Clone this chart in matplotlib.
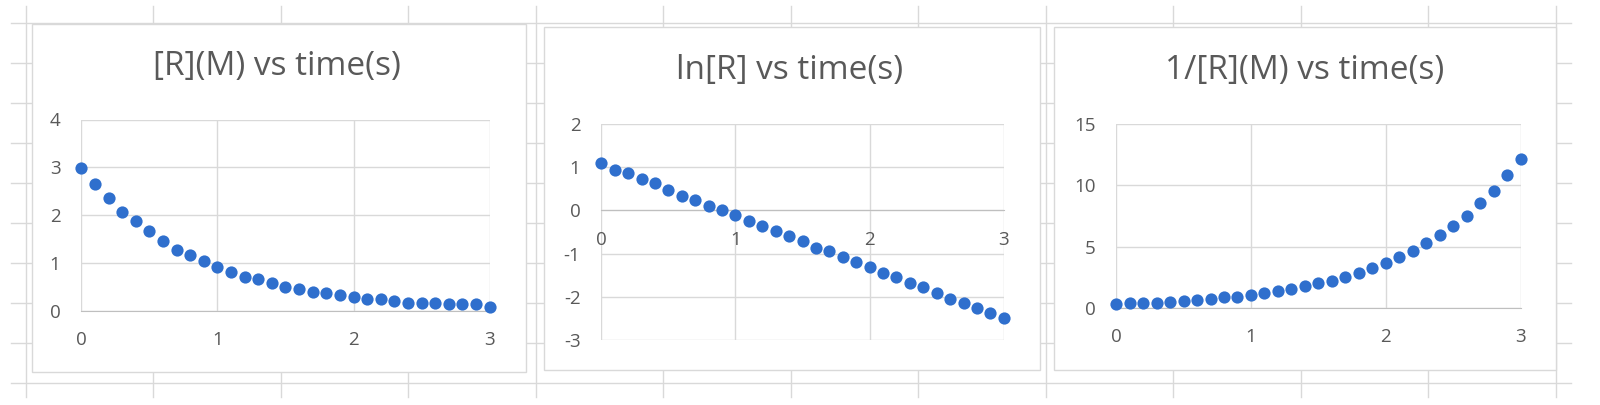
import numpy as np
import matplotlib.pyplot as plt
from matplotlib.lines import Line2D
from matplotlib.patches import Rectangle

# 数据: 时间 (s) 与浓度
time_s = [0.0, 0.1, 0.2, 0.3, 0.4, 0.5, 0.6, 0.7, 0.8, 0.9, 1.0,
          1.1, 1.2, 1.3, 1.4, 1.5, 1.6, 1.7, 1.8, 1.9, 2.0,
          2.1, 2.2, 2.3, 2.4, 2.5, 2.6, 2.7, 2.8, 2.9, 3.0]
conc_M = [2.99, 2.65, 2.36, 2.07, 1.87, 1.67, 1.46, 1.28, 1.16, 1.03, 0.91,
          0.82, 0.70, 0.66, 0.57, 0.49, 0.45, 0.40, 0.36, 0.32, 0.28,
          0.24, 0.24, 0.20, 0.16, 0.16, 0.16, 0.13, 0.13, 0.13, 0.08]
ln_conc = [1.09, 0.93, 0.86, 0.72, 0.63, 0.47, 0.34, 0.24, 0.11, 0.02, -0.11,
           -0.25, -0.35, -0.48, -0.59, -0.70, -0.86, -0.93, -1.07, -1.19, -1.30,
           -1.44, -1.54, -1.67, -1.77, -1.91, -2.06, -2.14, -2.27, -2.38, -2.50]
inv_conc = [0.33, 0.40, 0.42, 0.45, 0.55, 0.60, 0.70, 0.76, 0.90, 0.95, 1.10,
            1.25, 1.40, 1.60, 1.82, 2.05, 2.25, 2.58, 2.90, 3.25, 3.66,
            4.20, 4.69, 5.29, 5.97, 6.73, 7.54, 8.54, 9.52, 10.85, 12.12]

titles = ["[R](M) vs time(s)", "ln[R] vs time(s)", "1/[R](M) vs time(s)"]
series = [conc_M, ln_conc, inv_conc]
y_ticks = [[0, 1, 2, 3, 4], [-3, -2, -1, 0, 1, 2], [0, 5, 10, 15]]
x_ticks = [0, 1, 2, 3]

W, H = 1600, 405
plt.rcParams['font.family'] = ['Open Sans', 'DejaVu Sans']
plt.rcParams['axes.unicode_minus'] = False
fig = plt.figure(figsize=(W / 100, H / 100), dpi=100)

GRID = '#D9D9D9'
TEXT = '#595959'
BLUE = '#2F6FCD'

def fx(px):
    return px / W

def fy(py):
    return 1 - py / H

# 表格背景网格线
for k in range(13):
    x = 25.5 + 127.5 * k
    fig.add_artist(Line2D([fx(x), fx(x)], [fy(6), fy(397)], color=GRID, lw=1.0, zorder=0))
for k in range(10):
    y = 22.5 + 40 * k
    fig.add_artist(Line2D([fx(11), fx(1571)], [fy(y), fy(y)], color=GRID, lw=1.0, zorder=0))

# 图表框 (left, top, right, bottom) 和绘图区
boxes = [(31.7, 23.5, 526, 372), (544, 26.5, 1040, 369.5), (1054, 26.5, 1556, 370)]
plots = [(81.3, 119.5, 489.7, 310.7), (601.3, 124, 1003.8, 340), (1116.2, 124, 1520.5, 308.3)]
title_pos = [(277, 67), (790, 71), (1305, 71)]

for i in range(3):
    l, t, r, b = boxes[i]
    fig.add_artist(Rectangle((fx(l), fy(b)), fx(r - l), (b - t) / H,
                             facecolor='white', edgecolor=GRID, lw=1.0, zorder=1))
    tx, ty = title_pos[i]
    fig.text(fx(tx), fy(ty), titles[i], ha='center', va='center',
             fontsize=24, color=TEXT, zorder=3)

    l, t, r, b = plots[i]
    ax = fig.add_axes([fx(l), fy(b), fx(r - l), (b - t) / H], zorder=2)
    ax.set_facecolor('none')
    ax.plot(time_s, series[i], 'o', color=BLUE, ms=8.8, mec='none', clip_on=False, zorder=5)
    ax.set_xlim(0, 3)
    ax.set_ylim(y_ticks[i][0], y_ticks[i][-1])
    ax.set_xticks(x_ticks)
    ax.set_yticks(y_ticks[i])
    ax.grid(True, color=GRID, lw=1.0)
    ax.set_axisbelow(True)
    for side in ['top', 'right', 'left']:
        ax.spines[side].set_visible(False)
    ax.spines['bottom'].set_position(('data', 0))
    ax.spines['bottom'].set_color('#BFBFBF')
    ax.tick_params(length=0, labelsize=13.5, labelcolor=TEXT)
    ax.tick_params(axis='x', pad=14.5)
    ax.tick_params(axis='y', pad=15)

fig.savefig('out.png', dpi=100)
